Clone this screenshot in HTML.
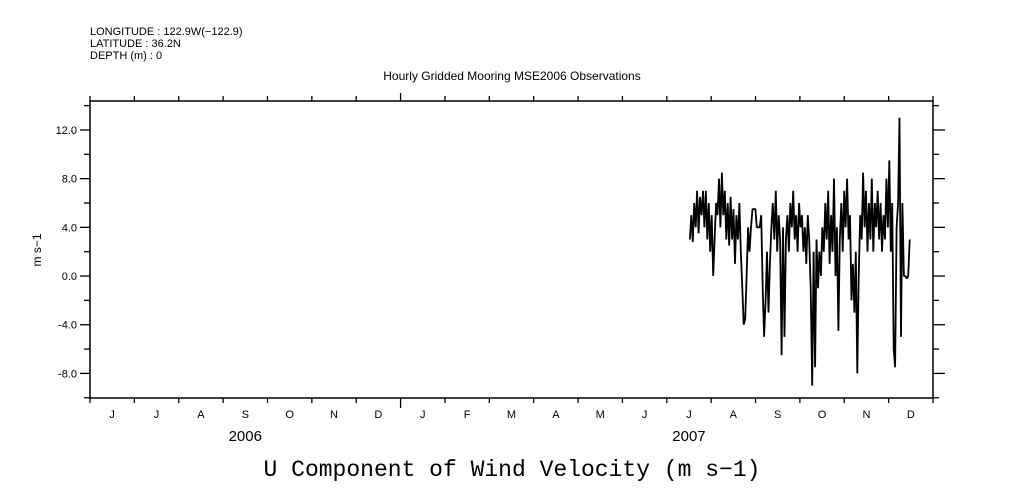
<!DOCTYPE html>
<html><head><meta charset="utf-8"><style>
body{margin:0;background:#fff}
svg{display:block;font-family:"Liberation Sans",sans-serif}
</style></head><body>
<svg id="c" width="1009" height="504">
<text x="90" y="35" font-size="11">LONGITUDE : 122.9W(−122.9)</text>
<text x="90" y="47" font-size="11">LATITUDE : 36.2N</text>
<text x="90" y="59" font-size="11">DEPTH (m) : 0</text>
<text x="512" y="80" font-size="12" text-anchor="middle">Hourly Gridded Mooring MSE2006 Observations</text>
<text x="512" y="476" font-size="23" text-anchor="middle" font-family="Liberation Mono, monospace">U Component of Wind Velocity (m s−1)</text>
<text transform="translate(41,250) rotate(-90)" font-size="12" text-anchor="middle">m s−1</text>
<rect x="90" y="101" width="843" height="297" fill="none" stroke="#000" stroke-width="1.5"/>
<g id="ax"></g>
<path id="ln" fill="none" stroke="#000" stroke-width="1.8" stroke-linejoin="bevel"/>
</svg>
<script>
const monthLabels=["J","J","A","S","O","N","D","J","F","M","A","M","J","J","A","S","O","N","D"];
const yearLabels=["2006","2007"];
const yTicks=[-8,-4,0,4,8,12];
const startDay=412;
const uValues=[3,5,2.8,6,4,7,3.5,6.5,5,7,
4,7,3,6,2,5,0,
3,6,5,8,4,8.5,5,7,3,6,2.5,6.5,3,5.5,
1,5,3,6,2,-1,-4,-3.5,0,4,
2,4,5.5,5.5,5.5,4,4,4,5,-1,
-5,-2,2,-3,1,4,6,3,7,2,5,
3,-6.5,4,-5,3,5,2,6,4,7,
3,5,2,6,4,5,2,4,1,5,
3,-1,-9,2,-7.5,3,-1,2,0,4,
2,6,3,7,1,5,2,8,0,4,
-4.5,3,6,2,7,4,8,3,5,-2,
1,-3,2,-8,0,5,3,8.5,4,7,2,
6,3,8,2,6,4,7,3,6,2,
5,3,8,4,9.5,2,6,-6,-7.5,4,
6,13,-5,6,0,0,-0.2,0,3];
const L=90,R=933,T=101,B=398,NS="http://www.w3.org/2000/svg";
const totalDays=579;
const x=d=>L+d*(R-L)/totalDays;
const y=v=>B-(v+10.02)*(B-T)/24.4;
const ax=document.getElementById('ax');
function ln(x1,y1,x2,y2,name){const e=document.createElementNS(NS,'line');
e.setAttribute('x1',x1);e.setAttribute('y1',y1);e.setAttribute('x2',x2);e.setAttribute('y2',y2);
e.setAttribute('stroke','#000');e.setAttribute('stroke-width','1.3');


ax.appendChild(e);}
function tx(xx,yy,s,anchor,size,name){const e=document.createElementNS(NS,'text');
e.setAttribute('x',xx);e.setAttribute('y',yy);e.setAttribute('font-size',size);e.setAttribute('text-anchor',anchor);e.textContent=s;


ax.appendChild(e);}
const mw=(R-L)/monthLabels.length;
for(let i=0;i<=monthLabels.length;i++){const xx=L+i*mw;const long=(i===7);
ln(xx,T,xx,T-(long?8:5),'x-tick-top');ln(xx,B,xx,B+(long?10:5),'x-tick-bottom');}
monthLabels.forEach((m,i)=>tx(L+(i+0.5)*mw,418,m,'middle',11,'month-label'));
yearLabels.forEach((s,i)=>tx(L+(i===0?3.5:13.5)*mw,441,s,'middle',15,'year-label'));
for(let v=-10;v<=14;v+=2){const yy=y(v);const major=yTicks.includes(v);
ln(L-(major?10:6),yy,L,yy,'y-tick-left');ln(R,yy,R+(major?12:6),yy,'y-tick-right');}
yTicks.forEach(v=>tx(L-13,y(v)+4,v.toFixed(1),'end',11,'y-tick-label'));
document.getElementById('ln').setAttribute('d',uValues.map((v,i)=>(i?'L':'M')+x(startDay+i).toFixed(1)+','+y(v).toFixed(1)).join(''));
</script>
</body></html>
